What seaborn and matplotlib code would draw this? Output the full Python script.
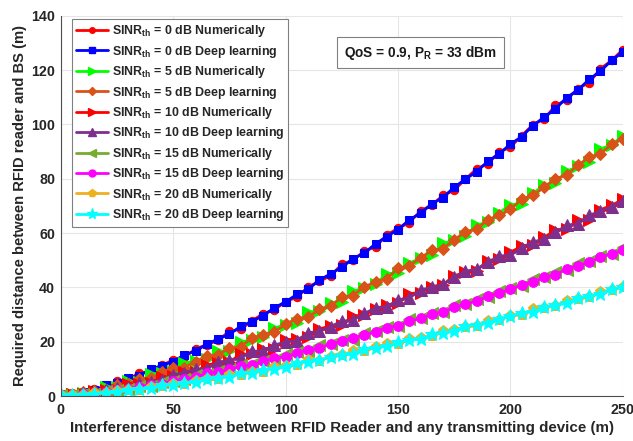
import matplotlib
matplotlib.use("Agg")
import matplotlib.pyplot as plt
import seaborn as sns
import pandas as pd
from matplotlib.lines import Line2D

# Interference distance (m)
distance = list(range(0, 251, 5))

# Required distance (m) for each SINR threshold
sinr0_num = [0.6, 1.0, 1.2, 2.6, 3.1, 5.4, 6.1, 8.6, 8.9, 11.3, 13.3, 14.2, 17.4, 18.9, 20.5, 23.9, 24.5,
             27.7, 30.3, 31.7, 34.8, 36.3, 40.2, 42.2, 44.3, 48.5, 50.0, 53.4, 54.9, 59.3, 61.8, 63.8, 68.2,
             70.3, 73.9, 75.8, 79.9, 83.7, 85.6, 89.8, 91.7, 95.9, 99.9, 102.0, 107.0, 109.1, 113.2, 115.4,
             120.5, 123.6, 127.6]
sinr0_dl = [0.7, 0.3, 1.6, 2.2, 3.9, 4.8, 6.6, 7.5, 9.9, 11.2, 12.7, 15.2, 16.6, 19.1, 21.0, 22.7, 25.7,
            27.4, 29.6, 32.5, 34.7, 37.4, 39.3, 42.7, 45.0, 47.4, 50.6, 52.6, 56.1, 58.7, 61.3, 64.9, 67.3,
            70.7, 73.1, 76.9, 79.9, 82.6, 86.5, 89.2, 92.8, 95.5, 99.6, 102.7, 105.7, 109.9, 112.7, 116.6,
            119.6, 123.6, 126.7]
sinr5_num = [0.5, 0.8, 1.2, 1.5, 3.2, 3.4, 5.5, 5.3, 8.0, 8.5, 9.1, 12.2, 12.8, 13.6, 16.5, 16.4, 20.0,
             20.5, 21.8, 25.0, 26.3, 26.8, 30.9, 31.3, 34.1, 34.8, 38.6, 39.8, 41.3, 45.0, 45.4, 49.0, 50.7,
             51.8, 56.2, 57.4, 59.1, 63.0, 64.0, 67.5, 70.4, 70.9, 74.6, 77.8, 78.6, 82.7, 84.6, 86.3, 90.9,
             92.6, 95.8]
sinr5_dl = [0.4, 0.3, 1.3, 2.0, 2.2, 4.1, 4.4, 6.4, 6.5, 8.7, 10.4, 10.5, 12.7, 14.8, 15.2, 17.7, 18.1,
            21.4, 22.6, 23.5, 26.5, 28.5, 29.0, 31.9, 33.2, 36.4, 37.0, 40.3, 41.9, 43.2, 47.0, 48.0, 50.9,
            53.6, 54.2, 57.6, 60.4, 61.6, 64.9, 66.6, 68.7, 72.6, 73.9, 76.9, 80.0, 81.4, 85.0, 87.9, 89.2,
            92.7, 94.8]
sinr10_num = [0.4, 0.6, 0.6, 1.8, 2.1, 2.3, 4.3, 4.6, 4.8, 7.1, 7.2, 9.0, 8.9, 11.5, 12.1, 12.6, 15.3,
              15.4, 17.4, 17.5, 20.7, 21.0, 21.9, 24.7, 25.8, 26.1, 29.5, 29.7, 32.2, 33.4, 34.2, 37.7, 38.1,
              40.3, 41.0, 44.3, 45.5, 46.2, 49.9, 50.4, 53.0, 55.1, 55.6, 58.4, 61.1, 61.6, 64.7, 65.0, 68.6,
              70.2, 72.4]
sinr10_dl = [0.3, 0.3, 1.0, 1.1, 2.4, 2.8, 3.3, 4.9, 5.3, 5.9, 7.9, 8.6, 9.9, 10.1, 12.5, 13.1, 14.0,
             16.4, 16.7, 18.7, 19.9, 20.4, 23.3, 23.8, 25.6, 27.5, 28.0, 30.4, 32.4, 32.9, 35.4, 36.1, 39.1,
             40.0, 41.1, 43.7, 45.9, 46.8, 49.2, 51.5, 51.9, 54.6, 56.8, 57.7, 60.3, 62.8, 63.5, 66.5, 68.1,
             69.7, 72.0]
sinr15_num = [0.3, 0.4, 0.7, 0.8, 1.9, 2.3, 2.6, 3.8, 3.7, 5.3, 5.7, 6.1, 7.8, 8.0, 9.3, 9.4, 11.5,
              11.8, 13.0, 13.4, 15.4, 16.3, 16.6, 18.8, 19.1, 20.6, 20.8, 23.3, 24.0, 25.5, 25.8, 28.3, 28.9,
              30.4, 30.8, 33.5, 34.0, 35.8, 36.4, 38.8, 39.7, 40.4, 43.1, 43.8, 45.6, 46.4, 49.0, 49.8, 51.5,
              52.3, 54.9]
sinr15_dl = [0.3, 0.1, 0.7, 1.0, 1.3, 2.3, 2.6, 3.4, 4.2, 4.4, 5.6, 6.3, 6.9, 8.3, 8.8, 9.8, 10.9,
             11.4, 12.8, 13.9, 14.5, 15.8, 17.1, 17.6, 19.2, 20.1, 21.5, 22.3, 23.7, 25.2, 25.8, 27.5, 28.6,
             30.1, 31.0, 32.6, 33.9, 34.9, 36.8, 37.9, 39.3, 40.9, 42.0, 43.7, 44.7, 46.7, 48.0, 49.3, 51.1,
             52.4, 53.6]
sinr20_num = [0.4, 0.4, 0.4, 1.0, 1.0, 1.7, 2.4, 2.3, 3.3, 3.6, 4.6, 4.4, 5.7, 6.1, 6.4, 7.8, 7.9,
              8.9, 9.0, 10.6, 11.1, 11.6, 13.1, 13.0, 14.5, 15.1, 16.5, 16.5, 17.9, 19.0, 19.0, 20.9, 21.3,
              22.0, 23.8, 24.3, 25.5, 25.8, 27.7, 28.1, 29.6, 29.8, 31.9, 32.5, 33.3, 35.0, 35.8, 36.3, 38.3,
              39.1, 40.3]
sinr20_dl = [0.3, 0.3, 0.3, 0.9, 1.1, 1.3, 2.3, 2.6, 2.8, 3.9, 4.1, 4.9, 5.0, 6.4, 6.7, 7.0, 8.3,
             8.5, 9.7, 10.1, 10.6, 12.2, 12.7, 13.1, 14.5, 15.0, 15.5, 17.3, 17.7, 18.3, 19.8, 20.5, 20.9,
             22.7, 23.1, 23.9, 25.7, 26.2, 26.8, 28.5, 29.3, 30.7, 31.0, 32.6, 33.4, 34.1, 36.0, 36.7, 37.6,
             39.3, 40.0]

thresholds = [0, 0, 5, 5, 10, 10, 15, 15, 20, 20]
methods = ["Numerically", "Deep learning"] * 5
series = [sinr0_num, sinr0_dl, sinr5_num, sinr5_dl, sinr10_num, sinr10_dl,
          sinr15_num, sinr15_dl, sinr20_num, sinr20_dl]

colors = ["#FF0000", "#0000FF", "#00FF00", "#D95319", "#FF0000",
          "#7E2F8E", "#77AC30", "#FF00FF", "#EDB120", "#00FFFF"]
markers = ["o", "s", ">", "D", ">", "^", "<", "o", "p", "*"]
msizes = [6, 6, 8, 6, 8, 8, 8, 7, 8, 10]

labels = [rf"SINR$_{{\mathbf{{th}}}}$ = {t} dB {m}" for t, m in zip(thresholds, methods)]

frames = []
for lab, vals in zip(labels, series):
    frames.append(pd.DataFrame({"distance": distance, "required": vals, "series": lab}))
df = pd.concat(frames, ignore_index=True)

sns.set_style("white")
plt.rcParams["font.family"] = ["Liberation Sans", "DejaVu Sans"]
plt.rcParams["mathtext.fontset"] = "custom"
plt.rcParams["mathtext.rm"] = "Liberation Sans:bold"
plt.rcParams["mathtext.bf"] = "Liberation Sans:bold"
plt.rcParams["mathtext.it"] = "Liberation Sans:bold"

fig = plt.figure(figsize=(6.33, 4.41), dpi=100)
ax = fig.add_axes([0.096, 0.102, 0.888, 0.862])

handles = []
for lab, col, mk, ms in zip(labels, colors, markers, msizes):
    sub = df[df["series"] == lab]
    sns.lineplot(data=sub, x="distance", y="required", ax=ax, color=col, marker=mk,
                 markersize=ms, markeredgecolor=col, linewidth=2.0, legend=False,
                 estimator=None, sort=False)
    handles.append(Line2D([0], [0], color=col, marker=mk, markersize=ms - 2,
                          markeredgecolor=col, linewidth=2.0, label=lab))

ax.set_xlim(0, 250)
ax.set_ylim(0, 140)
ax.set_xticks(range(0, 251, 50))
ax.set_yticks(range(0, 141, 20))
ax.grid(True, color="#e6e6e6", linewidth=0.8)
ax.set_axisbelow(True)
for side in ["top", "right"]:
    ax.spines[side].set_visible(False)
for side in ["left", "bottom"]:
    ax.spines[side].set_color("#4d4d4d")
    ax.spines[side].set_linewidth(0.8)
ax.tick_params(direction="in", length=4, color="#4d4d4d", labelsize=10.3)
ax.tick_params(axis="x", pad=5)
ax.tick_params(axis="y", pad=4)
for t in ax.get_xticklabels() + ax.get_yticklabels():
    t.set_fontweight("bold")
    t.set_color("#262626")

ax.set_xlabel("Interference distance between RFID Reader and any transmitting device (m)",
              fontsize=10.9, fontweight="bold", color="#262626", labelpad=3)
ax.set_ylabel("Required distance between RFID reader and BS (m)",
              fontsize=10.6, fontweight="bold", color="#262626", labelpad=3)

leg = ax.legend(handles=handles, loc="upper left", bbox_to_anchor=(0.016, 0.997),
                prop={"weight": "bold", "size": 8.9}, frameon=True, fancybox=False,
                edgecolor="#808080", framealpha=1, labelspacing=0.36, handlelength=2.6,
                handletextpad=0.3, borderpad=0.3, borderaxespad=0.2)
leg.get_frame().set_linewidth(0.8)

ax.text(160.0, 126.5, r"QoS = 0.9, P$_{\mathbf{R}}$ = 33 dBm", fontsize=9.8, fontweight="bold",
        ha="center", va="center", color="#1a1a1a",
        bbox=dict(boxstyle="square,pad=0.5", facecolor="white", edgecolor="#808080", linewidth=0.8))

fig.savefig("out.png", dpi=100, facecolor="white")
